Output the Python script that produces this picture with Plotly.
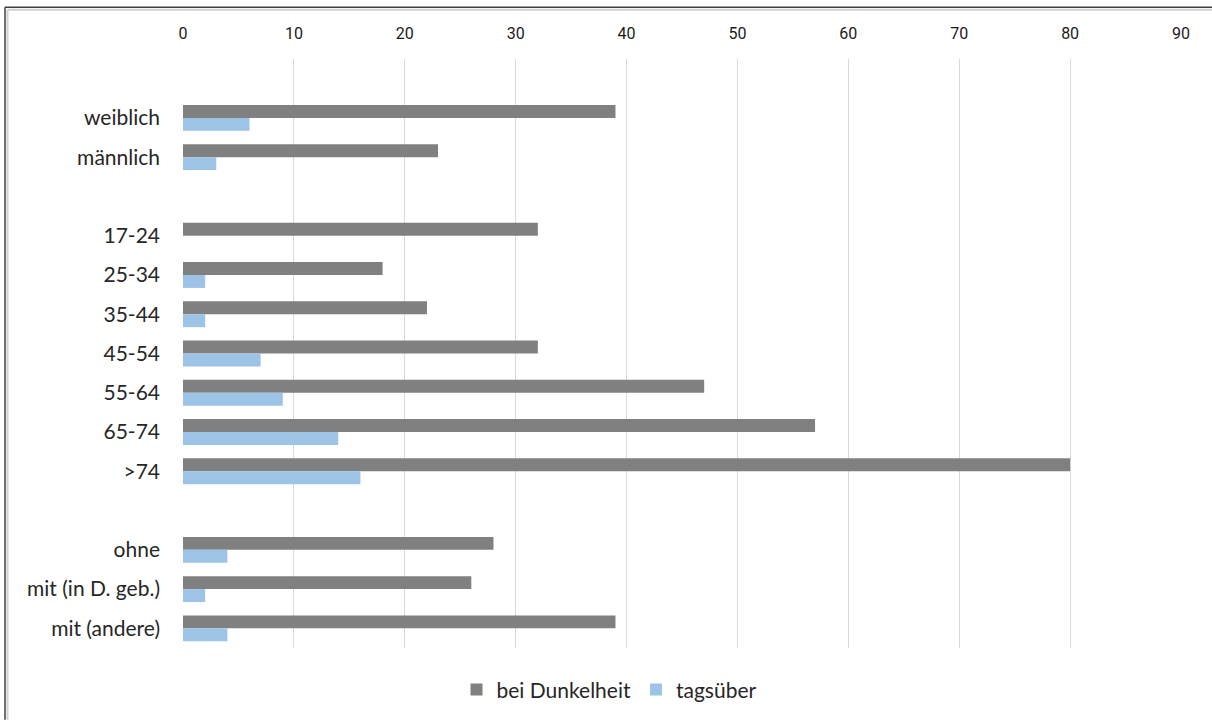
import plotly.graph_objects as go

categories = [" ", "weiblich", "männlich", "  ", "17-24", "25-34", "35-44", "45-54",
              "55-64", "65-74", ">74", "   ", "ohne", "mit (in D. geb.)", "mit (andere)"]
dunkel = [None, 39, 23, None, 32, 18, 22, 32, 47, 57, 80, None, 28, 26, 39]
tags = [None, 6, 3, None, 0, 2, 2, 7, 9, 14, 16, None, 4, 2, 4]
x_ticks = [0, 10, 20, 30, 40, 50, 60, 70, 80, 90]

W, H = 1212, 722
L, R, T, B = 183, 31, 59, 72
pw, ph = W - L - R, H - T - B

def px(x):
    return (x - L) / pw

def py(y):
    return (H - B - y) / ph

fig = go.Figure()
fig.add_trace(go.Bar(y=categories, x=dunkel, orientation="h", name="bei Dunkelheit",
                     marker=dict(color="#808080", line=dict(width=0))))
fig.add_trace(go.Bar(y=categories, x=tags, orientation="h", name="tagsüber",
                     marker=dict(color="#9dc3e6", line=dict(width=0))))

shapes = [
    dict(type="line", xref="paper", yref="paper", x0=px(5), x1=px(5), y0=py(7), y1=py(722),
         line=dict(color="#404040", width=1.5)),
    dict(type="line", xref="paper", yref="paper", x0=px(5), x1=px(1212), y0=py(7), y1=py(7),
         line=dict(color="#404040", width=1.5)),
    dict(type="line", xref="paper", yref="paper", x0=px(7.5), x1=px(7.5), y0=py(9.5), y1=py(722),
         line=dict(color="#d0d0d0", width=2)),
    dict(type="line", xref="paper", yref="paper", x0=px(7.5), x1=px(1212), y0=py(9.5), y1=py(9.5),
         line=dict(color="#d0d0d0", width=2)),
]

fig.update_layout(
    width=W, height=H,
    margin=dict(l=L, r=R, t=T, b=B, pad=0),
    paper_bgcolor="white", plot_bgcolor="white",
    barmode="group", bargap=0.34, bargroupgap=0,
    showlegend=True,
    legend=dict(orientation="h", x=px(609), y=py(692), xanchor="center", yanchor="middle",
                font=dict(family="Lato", size=21, color="#262626"), traceorder="normal",
                itemwidth=30),
    shapes=shapes,
    xaxis=dict(range=[0, 90], side="top", tickvals=x_ticks, showgrid=True,
               gridcolor="#d9d9d9", gridwidth=1, zeroline=False, showline=False,
               ticks="", ticklabelstandoff=16,
               tickfont=dict(family="Roboto", size=16, color="#1a1a1a"),
               fixedrange=True),
    yaxis=dict(categoryorder="array", categoryarray=categories, autorange="reversed",
               showgrid=False, zeroline=False, showline=False, ticks="",
               ticklabelstandoff=22,
               tickfont=dict(family="Lato", size=21, color="#262626")),
)

fig.write_html("out.html")
